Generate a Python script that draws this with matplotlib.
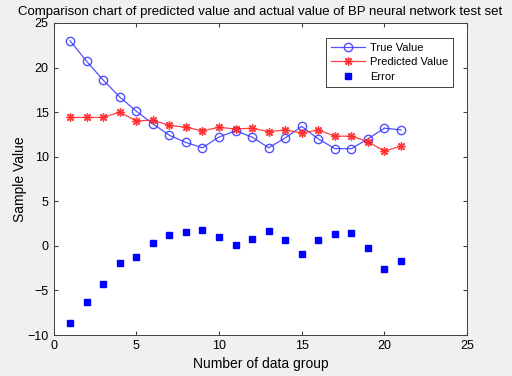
#!/usr/bin/env python3
"""BP neural network test set: true vs predicted values and error."""

import matplotlib
matplotlib.use("Agg")
import matplotlib.pyplot as plt

groups = list(range(1, 22))
true_value = [23.0, 20.7, 18.6, 16.7, 15.1, 13.7, 12.4, 11.6, 11.0, 12.2, 12.9,
              12.2, 11.0, 12.1, 13.4, 12.0, 10.9, 10.9, 12.0, 13.2, 13.0]
predicted_value = [14.4, 14.4, 14.4, 15.0, 14.0, 14.1, 13.5, 13.3, 12.9, 13.3, 13.1,
                   13.2, 12.8, 13.0, 12.65, 13.0, 12.3, 12.3, 11.7, 10.6, 11.2]
error = [-8.6, -6.3, -4.3, -1.9, -1.2, 0.3, 1.2, 1.6, 1.75, 1.0, 0.07,
         0.8, 1.7, 0.7, -0.86, 0.7, 1.38, 1.45, -0.27, -2.6, -1.7]

plt.rcParams["font.family"] = ["Liberation Sans", "DejaVu Sans"]

fig = plt.figure(figsize=(5.12, 3.76), dpi=100, facecolor="#f0f0f0")
ax = fig.add_axes([0.1045, 0.109, 0.808, 0.830])

ax.plot(groups, true_value, color="#3333ff", marker="o", markersize=6,
        markerfacecolor="none", linewidth=0.9, alpha=0.85, label="True Value")
# MATLAB-style asterisk marker
ax.plot(groups, predicted_value, color="#ff2020", marker=(8, 2, 0), markersize=6,
        markeredgewidth=1.0, linewidth=0.9, alpha=0.85, label="Predicted Value")
ax.plot(groups, error, color="#0000ff", marker="s", markersize=4.5,
        linestyle="none", label="Error")

ax.set_xlim(0, 25)
ax.set_ylim(-10, 25)
ax.set_xticks(range(0, 26, 5))
ax.set_yticks(range(-10, 26, 5))
ax.tick_params(direction="in", top=True, right=True, labelsize=9, length=3,
               color="#404040")
for spine in ax.spines.values():
    spine.set_color("#404040")
    spine.set_linewidth(0.7)

ax.set_title("Comparison chart of predicted value and actual value of BP neural network test set",
             fontsize=9.5, pad=6)
ax.set_xlabel("Number of data group", fontsize=10)
ax.set_ylabel("Sample Value", fontsize=10, labelpad=0)

leg = ax.legend(loc="upper right", bbox_to_anchor=(0.98, 0.97), fontsize=8,
                fancybox=False, edgecolor="#404040", framealpha=1,
                handlelength=3.0, handletextpad=0.5, borderpad=0.45,
                labelspacing=0.4)
leg.get_frame().set_linewidth(0.7)

fig.savefig("out.png", dpi=100, facecolor=fig.get_facecolor())
